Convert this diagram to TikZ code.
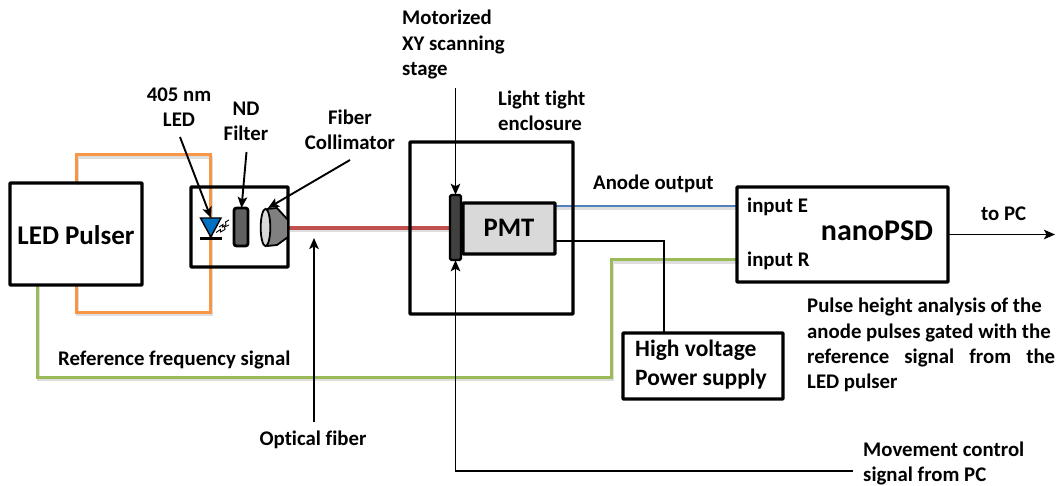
\documentclass[tikz,border=0pt]{standalone}
\usepackage{fontspec}
\setmainfont[Ligatures=NoCommon]{Carlito}
\usetikzlibrary{arrows.meta,calc}
\definecolor{cOrange}{HTML}{F79646}
\definecolor{cBlue}{HTML}{4F81BD}
\definecolor{cGreen}{HTML}{9BBB59}
\definecolor{cRed}{HTML}{C0504D}
\definecolor{cLed}{HTML}{0070C0}
\tikzset{
  softshadow/.style={preaction={draw=black,draw opacity=.13,line width=3.5pt,transform canvas={shift={(1.5pt,-2.5pt)}}}},
  wire/.style={line width=3pt,line join=miter,softshadow},
  blackbox/.style={draw=black,line width=3.1pt,inner sep=0pt,rounded corners=.6pt},
  lbl/.style={font=\bfseries\fontsize{20.8}{25.3}\selectfont,inner sep=0pt,align=left},
  lblc/.style={lbl,align=center},
  big/.style={inner sep=0pt,font=\bfseries\fontsize{#1}{#1}\selectfont},
  pointer/.style={draw=black,line width=1.9pt,-{Stealth[length=11pt,width=9.5pt,inset=2.5pt]}},
  hvwire/.style={draw=black,line width=2pt},
}
\begin{document}
\begin{tikzpicture}[x=1pt,y=-1pt]
\useasboundingbox (0,0) rectangle (1057,486);
\path
  node[minimum width=132pt,minimum height=102pt,inner sep=0pt] (pulser) at (76,234) {}
  node[minimum width=97pt,minimum height=80pt,inner sep=0pt] (ledbox) at (239.5,227) {}
  node[minimum width=163pt,minimum height=172pt,inner sep=0pt] (encl) at (491.5,228) {}
  node[minimum width=11pt,minimum height=65pt,inner sep=0pt] (stage) at (455.5,227.5) {}
  node[minimum width=92pt,minimum height=51pt,inner sep=0pt] (pmt) at (509,228.5) {}
  node[minimum width=211pt,minimum height=95pt,inner sep=0pt] (nano) at (842.5,234.5) {}
  node[minimum width=160pt,minimum height=66pt,inner sep=0pt] (hv) at (703,366) {};
\coordinate (orTop) at (76,155);
\coordinate (orRight) at (210,155);
\coordinate (orBottom) at (210,312);
\coordinate (orLeft) at (76,312);
\coordinate (grOut) at (37,285);
\coordinate (grA) at (37,377);
\coordinate (grB) at (611,377);
\coordinate (grC) at (611,260);
\coordinate (grEnd) at (737,260);
\coordinate (collOut) at (288,228);
\coordinate (anodeOut) at (555,206);
\coordinate (hvOut) at (555,241);
\coordinate (hvCorner) at (664,241);
\coordinate (hvIn) at (664,333);
\coordinate (moveStart) at (853,471);
\coordinate (moveCorner) at (455.5,471);
\coordinate (xyStart) at (455.5,88);
\coordinate (fibStart) at (314,422);
\coordinate (fibTip) at (314,238);
\coordinate (ledStart) at (180,137);
\coordinate (ledTip) at (211,218);
\coordinate (ndStart) at (246.5,152);
\coordinate (ndTip) at (241.5,208);
\coordinate (colStart) at (350,160);
\coordinate (colTip) at (268,208);
\coordinate (pcEnd) at (1055,234.5);
% coloured wires
\draw[wire,cOrange] (pulser.north) -- (orTop) -- (orRight) -- (orBottom) -- (orLeft) -- (pulser.south);
\draw[wire,cGreen] (grOut) -- (grA) -- (grB) -- (grC) -- (grEnd);
\draw[wire,cRed,line width=3.2pt] (collOut) -- (stage.west |- collOut);
\draw[wire,cBlue,line width=2.6pt] (anodeOut) -- (anodeOut -| nano.west);
% black wires
\draw[hvwire] (hvOut) -- (hvCorner) -- (hvIn);
\draw[pointer] (moveStart) -- (moveCorner) -- (stage.south);
\draw[pointer] (xyStart) -- (stage.north);
\draw[pointer] (fibStart) -- (fibTip);
\draw[pointer] (nano.east) -- (pcEnd);
% boxes
\node[blackbox,minimum width=132pt,minimum height=102pt] at (pulser.center) {};
\node[blackbox,minimum width=97pt,minimum height=80pt] at (ledbox.center) {};
\node[blackbox,minimum width=163pt,minimum height=172pt] at (encl.center) {};
\node[blackbox,minimum width=211pt,minimum height=95pt] at (nano.center) {};
\node[blackbox,minimum width=160pt,minimum height=66pt] at (hv.center) {};
\node[blackbox,fill=black!15,minimum width=92pt,minimum height=51pt] at (pmt.center) {};
\node[blackbox,fill=black!75,rounded corners=1.5pt,line width=2.4pt,minimum width=11pt,minimum height=65pt] at (stage.center) {};
% LED symbol
\draw[black,line width=1.4pt,fill=cLed,line join=miter] (200.5,218) -- (221,218) -- (210.8,237) -- cycle;
\draw[black,line width=2.6pt] (200,238.5) -- (221.5,238.5);
\draw[black,line width=.9pt] (219,227) -- (223,224.5) -- (222.5,227) -- (226,225) -- (225.5,222) -- (229,220);
\draw[black,line width=.9pt] (216,232.5) -- (220.5,229.5) -- (220.5,232) -- (225,229.5) -- (224.5,227) -- (229,225);
% ND filter
\node[draw=black,line width=2.8pt,fill=black!62,rounded corners=2.5pt,minimum width=14pt,minimum height=38pt,inner sep=0pt] (nd) at (241,227) {};
% Collimator
\draw[black,line width=1.8pt,fill=black!50,line join=round] (267,209) -- (277,208) -- (288,220) -- (288,237) -- (277,245) -- (267,246) -- cycle;
\draw[black,line width=1.8pt,fill=black!15] (265.5,227.5) ellipse [x radius=4.8pt,y radius=18.6pt];
% pointers to the LED box components
\draw[pointer] (ledStart) -- (ledTip);
\draw[pointer] (ndStart) -- (ndTip);
\draw[pointer] (colStart) -- (colTip);
% Labels
\node[lbl,anchor=west] (tMot) at (402,44.5) {Motorized\\XY scanning\\stage};
\node[lblc] (tLed) at (179,107) {405 nm\\LED};
\node[lblc] (tNd) at (246,121.5) {ND\\Filter};
\node[lblc] (tFib) at (350,129.5) {Fiber\\Collimator};
\node[lbl,anchor=west] (tLight) at (498,111) {Light tight\\enclosure};
\node[lbl,anchor=west] (tAnode) at (593,184) {Anode output};
\node[lbl,anchor=west] (tE) at (747,207) {input E};
\node[lbl,anchor=west] (tR) at (747,261) {input R};
\node[lbl,anchor=west] (tPC) at (981,214) {to PC};
\node[lbl,anchor=west] (tRef) at (58,360) {Reference frequency signal};
\node[lblc] (tOpt) at (313,440) {Optical fiber};
\node[lbl,anchor=north west] (tPulse) at (807,298)
  {\makebox[248pt][l]{Pulse height analysis of the}\\
   \makebox[248pt][l]{anode pulses gated with the}\\
   \makebox[248pt][s]{reference signal from the}\\
   LED pulser};
\node[lbl,anchor=west] (tMove) at (863,463.5) {Movement control\\signal from PC};
\node[big=27] (tPulser) at (76,235) {LED Pulser};
\node[big=26.7] (tPmt) at (509,228) {PMT};
\node[big=30] (tNano) at (877,231) {nanoPSD};
\node[inner sep=0pt,align=left,font=\bfseries\fontsize{23.5}{29}\selectfont,anchor=west] (tHv) at (635,365) {High voltage\\Power supply};
\end{tikzpicture}
\end{document}
